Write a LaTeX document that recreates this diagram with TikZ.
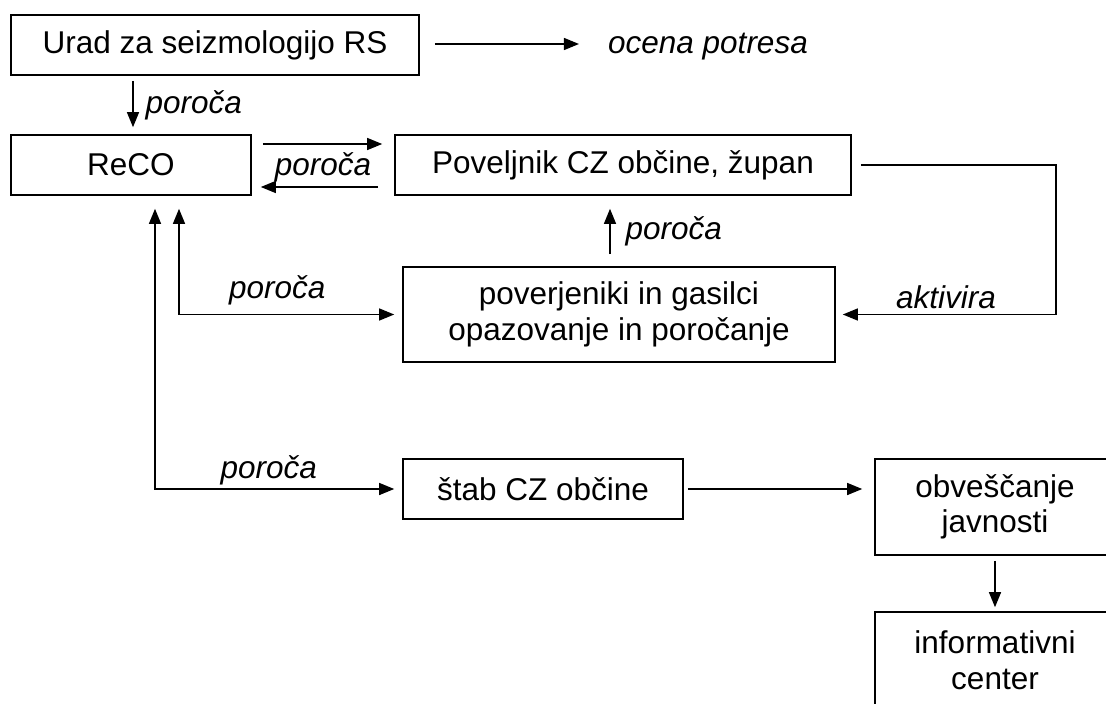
\documentclass[tikz,border=0pt]{standalone}
\usepackage{fontspec}
\setmainfont{Liberation Sans}
\usetikzlibrary{arrows.meta}

\begin{document}
\begin{tikzpicture}[x=1pt, y=-1pt,
	font=\fontsize{31.5}{35.5}\selectfont,
	>={Triangle[length=15pt,width=12pt]},
	box/.style={shape=rectangle, draw=black, line width=1.6pt, inner sep=0pt, align=center},
	lbl/.style={inner sep=0pt, font=\fontsize{31.5}{35.5}\selectfont\itshape},
	arr/.style={->, line width=1.3pt}]
	\clip (0, 0) rectangle (1106, 704);
	\node[box, minimum width=408pt, minimum height=60pt] (urad) at (215, 45) {Urad za seizmologijo RS};
	\node[lbl] (ocena) at (708, 47) {ocena potresa};
	\node[box, minimum width=240pt, minimum height=60pt] (reco) at (131, 165) {ReCO};
	\node[box, minimum width=456pt, minimum height=60pt] (povel) at (623, 165) {Poveljnik CZ občine, župan};
	\node[box, minimum width=432pt, minimum height=95pt] (pover) at (619, 314.5) {poverjeniki in gasilci\\opazovanje in poročanje};
	\node[box, minimum width=280pt, minimum height=60pt] (stab) at (543, 489) {štab CZ občine};
	\node[box, minimum width=240pt, minimum height=96pt] (obv) at (995, 507) {obveščanje\\javnosti};
	\node[box, minimum width=240pt, minimum height=96pt] (info) at (995, 660) {informativni\\center};
	\coordinate (turn) at (1056, 165);
	\path[arr] ([yshift=1pt]urad.east) edge[shorten <=15pt, shorten >=29pt] ([yshift=1pt]ocena.west |- urad.east);
	\path[arr] ([xshift=2pt]reco.north |- urad.south) edge[shorten <=5pt, shorten >=7pt] node[lbl, right=12pt] {poroča} ([xshift=2pt]reco.north);
	\path[arr] ([yshift=21pt]reco.east) edge[shorten <=11pt, shorten >=12pt] ([yshift=21pt]povel.west);
	\path[arr] ([yshift=-22pt]povel.west) edge[shorten <=16pt, shorten >=9pt] ([yshift=-22pt]reco.east);
	\path (reco.east) -- node[lbl, yshift=-2pt] {poroča} (povel.west);
	\path[arr] ([xshift=-9pt]pover.north) edge[shorten <=12pt, shorten >=13pt] node[lbl, right=15pt] {poroča} ([xshift=-13pt]povel.south);
	\draw[arr, shorten <=9pt, shorten >=7pt] (povel.east) -- (turn) |- node[lbl, pos=0.75, above=5pt] {aktivira} (pover.east);
	\draw[arr, <->, shorten <=13pt, shorten >=8pt] ([xshift=48pt]reco.south) |- node[lbl, pos=0.72, above=9pt] {poroča} (pover.west);
	\draw[arr, <->, shorten <=13pt, shorten >=8pt] ([xshift=24pt]reco.south) |- node[lbl, pos=0.73, above=3pt] {poroča} (stab.west);
	\path[arr] (stab.east) edge[shorten <=4pt, shorten >=12pt] (stab.east -| obv.west);
	\path[arr] (obv.south) edge[shorten <=5pt, shorten >=4pt] (info.north);
\end{tikzpicture}
\end{document}
